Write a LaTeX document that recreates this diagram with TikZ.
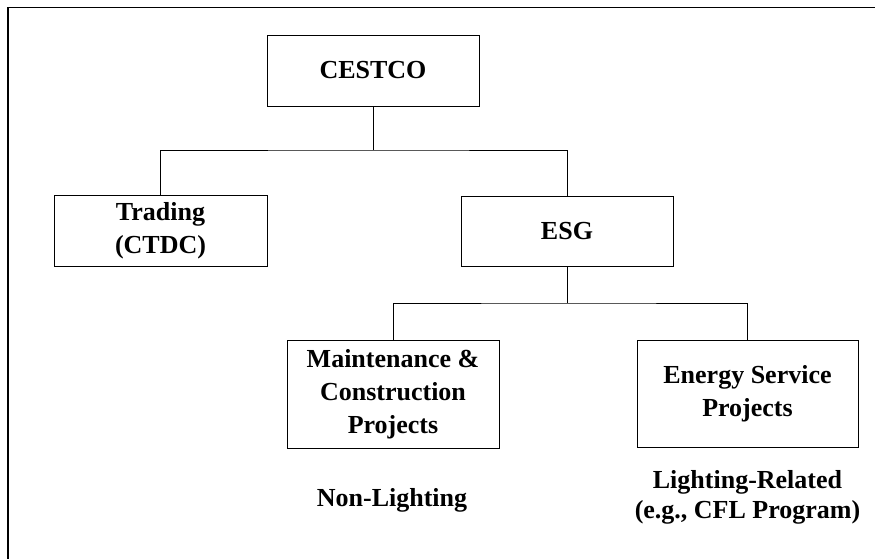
\documentclass[tikz,border=0pt]{standalone}
\usepackage{fontspec}
\setmainfont{Liberation Serif}
\begin{document}
\begin{tikzpicture}[x=1pt,y=-1pt]
        \tikzset{unit/.style = {draw, line width=0.9pt, inner sep=0pt, align=center,
                 font=\fontsize{26}{33}\selectfont\bfseries}}
        \tikzset{note/.style = {inner sep=0pt, align=center, font=\fontsize{26}{30}\selectfont\bfseries}}
        \tikzset{c/.style = {line width=0.9pt}}

        \useasboundingbox (0,0) rectangle (875,559);
        \draw[line width=1.2pt] (8,559) -- (8,7.5) -- (875,7.5);

        \node[unit, minimum width=212, minimum height=71] (cestco) at (373,70.5) {CESTCO};
        \node[unit, minimum width=213, minimum height=71] (trading) at (160.5,230.5) {Trading\\(CTDC)};
        \node[unit, minimum width=212, minimum height=70] (esg) at (567,231) {ESG};
        \node[unit, minimum width=212, minimum height=108] (mcp) at (393,394) {Maintenance \&\\Construction\\Projects};
        \node[unit, minimum width=221, minimum height=107] (esp) at (747.5,393.5) {Energy Service\\Projects};

        \node[note] (nonlight) at (392,500) {Non-Lighting};
        \node[note] (light) at (747.5,497) {Lighting-Related\\(e.g., CFL Program)};

        \coordinate (j1) at (373,150);
        \coordinate (j2) at (567,303);

        \draw[c] (cestco) -- (j1);
        \draw[c] (trading.north) |- (j1) -| (esg.north);
        \draw[c] (esg) -- (j2);
        \draw[c] (mcp.north) |- (j2) -| (esp.north);

        \end{tikzpicture}
\end{document}
